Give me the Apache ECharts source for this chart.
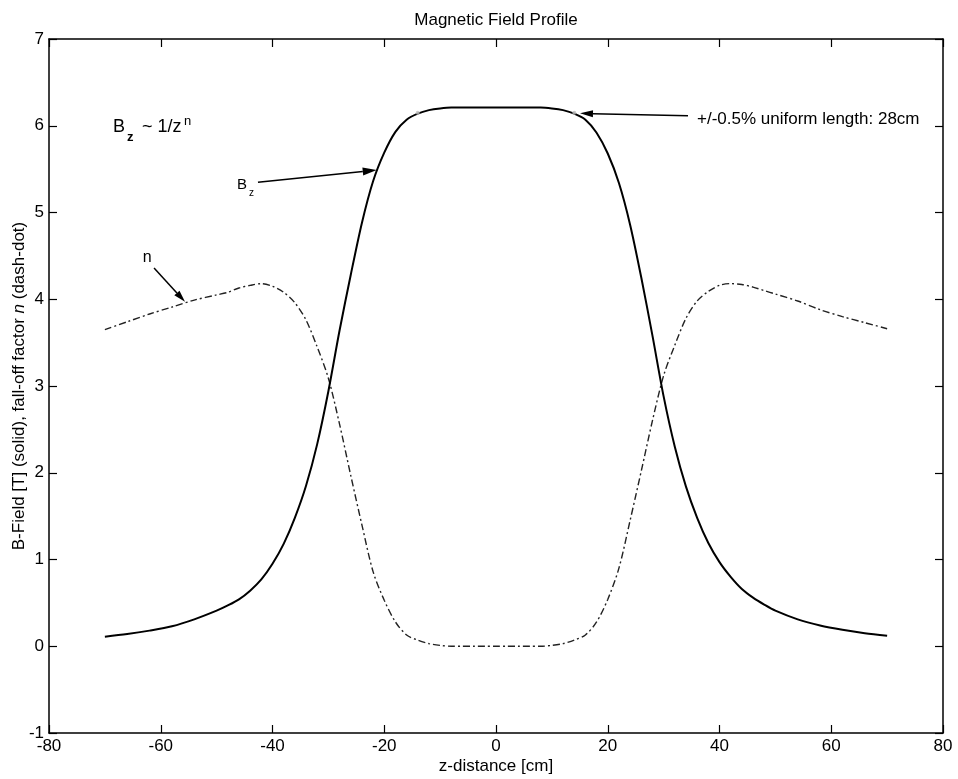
<!DOCTYPE html>
<html><head><meta charset="utf-8">
<script src="https://cdn.jsdelivr.net/npm/echarts@6/dist/echarts.min.js"></script>
<style>html,body{margin:0;padding:0;background:#fff}#c{width:958px;height:779px}</style>
</head><body><div id="c"></div>
<script>
// ---- data ----
const zValues  = [-70,-66,-62,-58,-54,-50,-48,-46,-44,-42,-40,-38,-36,-34,-32,-30,-28,-26,-24,-22,-20,-18,-16,-14,-12,-10,-8,-6,-4,-2,0,2,4,6,8,10,12,14,16,18,20,22,24,26,28,30,32,34,36,38,40,42,44,46,48,50,54,58,62,66,70];
const bzValues = [0.11,0.14,0.18,0.23,0.31,0.41,0.47,0.54,0.64,0.77,0.95,1.18,1.48,1.85,2.33,2.94,3.64,4.28,4.88,5.36,5.69,5.93,6.07,6.14,6.18,6.20,6.21,6.21,6.21,6.21,
                  6.21,
                  6.21,6.21,6.21,6.21,6.20,6.18,6.14,6.07,5.92,5.68,5.34,4.86,4.25,3.58,2.88,2.30,1.84,1.48,1.19,0.97,0.80,0.66,0.56,0.48,0.41,0.31,0.24,0.19,0.15,0.12];
const nValues  = [3.65,3.74,3.83,3.91,3.99,4.05,4.08,4.13,4.16,4.18,4.15,4.08,3.96,3.76,3.45,3.09,2.56,1.97,1.40,0.86,0.53,0.28,0.13,0.07,0.03,0.01,0.00,0.00,0.00,0.00,
                  0.00,
                  0.00,0.00,0.00,0.00,0.01,0.03,0.07,0.13,0.28,0.54,0.90,1.45,2.02,2.60,3.12,3.47,3.78,3.98,4.09,4.16,4.18,4.17,4.14,4.10,4.06,3.98,3.88,3.80,3.73,3.66];
const uniformEndZ = [-14, 14];
const uniformEndB = [6.15, 6.15];

const titleText = 'Magnetic Field Profile';
const xName = 'z-distance [cm]';
const yName = 'B-Field [T] (solid), fall-off factor {i|n} (dash-dot)';
const uniformText = '+/-0.5% uniform length: 28cm';

// annotation anchors (data coordinates)
const lawAnchor = [-68.55, 5.99];
const bzLabelAnchor = [-46.35, 5.32];
const nLabelAnchor = [-63.2, 4.475];
const uniformTextAnchor = [35.97, 6.078];
const bzArrow = [[-42.6, 5.35], [-21.35, 5.49]];
const nArrow = [[-61.2, 4.36], [-55.66, 3.97]];
const uniformArrow = [[34.36, 6.116], [15.03, 6.143]];

const FONT = '"Liberation Sans", Arial, sans-serif';
const bzData = zValues.map((z, i) => [z, bzValues[i]]);
const nData = zValues.map((z, i) => [z, nValues[i]]);
const endData = uniformEndZ.map((z, i) => [z, uniformEndB[i]]);

const axisLineStyle = {color: '#000', width: 1.5};
const tickStyle = {color: '#000', width: 1.2};
function xAx(pos, main) {
  return {
    type: 'value', min: -80, max: 80, interval: 20, position: pos,
    axisLine: {show: true, onZero: false, lineStyle: axisLineStyle},
    axisTick: {show: true, inside: true, length: 8, lineStyle: tickStyle},
    axisLabel: {show: main, fontSize: 17, color: '#000', margin: 5, fontFamily: FONT},
    splitLine: {show: false},
    name: main ? xName : '', nameLocation: 'middle', nameGap: 25, nameMoveOverlap: false,
    nameTextStyle: {fontSize: 17, color: '#000', fontFamily: FONT}
  };
}
function yAx(pos, main) {
  return {
    type: 'value', min: -1, max: 7, interval: 1, position: pos,
    axisLine: {show: true, onZero: false, lineStyle: axisLineStyle},
    axisTick: {show: true, inside: true, length: 8, lineStyle: tickStyle},
    axisLabel: {show: main, fontSize: 17, color: '#000', margin: 5, fontFamily: FONT},
    splitLine: {show: false},
    name: main ? yName : '', nameLocation: 'middle', nameGap: 21, nameMoveOverlap: false,
    nameTextStyle: {fontSize: 17, color: '#000', fontFamily: FONT,
      rich: {i: {fontSize: 17, fontStyle: 'italic', color: '#000', fontFamily: FONT}}}
  };
}

const option = {
  animation: false,
  backgroundColor: '#fff',
  title: {text: titleText, left: 496, top: 12, textAlign: 'center', padding: 0,
    textStyle: {fontSize: 17, fontWeight: 'normal', color: '#000', fontFamily: FONT}},
  grid: {left: 49, right: 15, top: 39, bottom: 46, containLabel: false, outerBoundsMode: 'none'},
  xAxis: [xAx('bottom', true), xAx('top', false)],
  yAxis: [yAx('left', true), yAx('right', false)],
  series: [
    {name: 'n', type: 'line', data: nData, showSymbol: false, smooth: 0.3,
     lineStyle: {color: '#222', width: 1.4, type: [7, 3, 2, 3]}, silent: true, z: 2},
    {name: 'Bz', type: 'line', data: bzData, showSymbol: false, smooth: 0.3,
     lineStyle: {color: '#000', width: 2}, silent: true, z: 3},
    {name: 'uniform ends', type: 'scatter', data: endData, symbol: 'circle', symbolSize: 4,
     itemStyle: {color: '#bbb'}, silent: true, z: 4}
  ]
};

const chart = echarts.init(document.getElementById('c'));
chart.setOption(option);

function px(c) { return chart.convertToPixel({xAxisIndex: 0, yAxisIndex: 0}, c); }
function txt(x, y, text, size, extra) {
  return {type: 'text', x: x, y: y, silent: true, z: 100,
    style: Object.assign({text: text, fontSize: size, fontFamily: FONT, fill: '#000',
      align: 'left', verticalAlign: 'middle'}, extra || {})};
}
function arrow(seg, headLen, headW) {
  const a = px(seg[0]), b = px(seg[1]);
  const dx = b[0] - a[0], dy = b[1] - a[1], L = Math.hypot(dx, dy);
  const ux = dx / L, uy = dy / L;
  const bx = b[0] - ux * headLen, by = b[1] - uy * headLen;
  return [
    {type: 'line', silent: true, z: 100, shape: {x1: a[0], y1: a[1], x2: bx, y2: by},
     style: {stroke: '#000', lineWidth: 1.5}},
    {type: 'polygon', silent: true, z: 100,
     shape: {points: [[b[0], b[1]], [bx - uy * headW / 2, by + ux * headW / 2], [bx + uy * headW / 2, by - ux * headW / 2]]},
     style: {fill: '#000'}}
  ];
}

const la = px(lawAnchor), bl = px(bzLabelAnchor), nl = px(nLabelAnchor), ut = px(uniformTextAnchor);
const graphics = [
  txt(la[0], la[1], 'B', 18),
  txt(la[0] + 14, la[1] + 11, 'z', 13, {fontWeight: 'bold'}),
  txt(la[0] + 29, la[1], '~ 1/z', 18),
  txt(la[0] + 71, la[1] - 5, 'n', 13),
  txt(bl[0], bl[1], 'B', 15),
  txt(bl[0] + 12, bl[1] + 9, 'z', 10),
  txt(nl[0], nl[1], 'n', 16),
  txt(ut[0], ut[1], uniformText, 17)
].concat(arrow(bzArrow, 14, 8), arrow(nArrow, 12, 7), arrow(uniformArrow, 13, 7));
chart.setOption({graphic: graphics});
</script>
</body></html>
